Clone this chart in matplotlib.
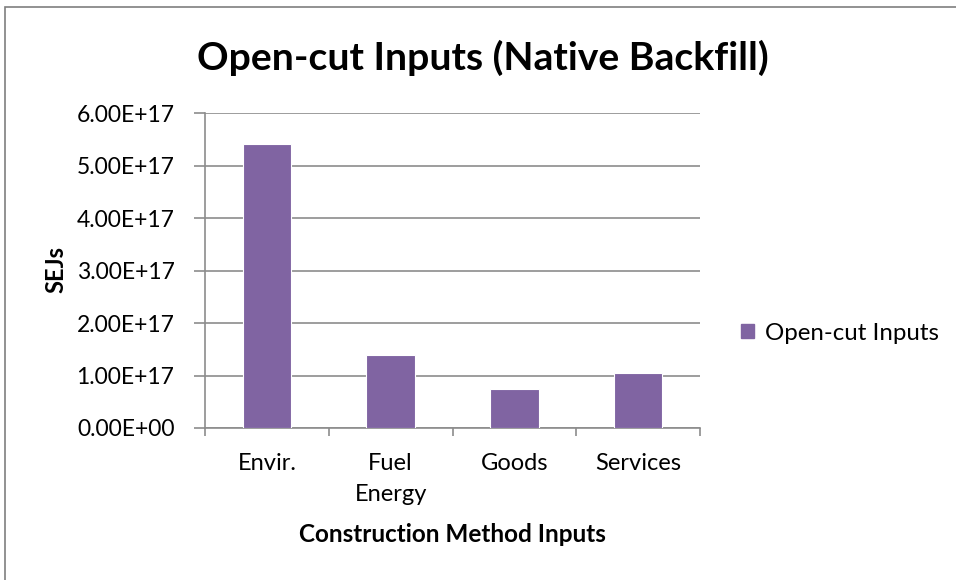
import numpy as np
import matplotlib.pyplot as plt
from matplotlib.patches import Rectangle, Patch

# data
categories = ['Envir.', 'Fuel\nEnergy', 'Goods', 'Services']
values = [5.41e17, 1.40e17, 0.75e17, 1.05e17]
yticks = np.arange(0, 7e17, 1e17)
ytick_labels = ['1.00E+17'.replace('1', str(i), 1) if i > 0 else '0.00E+00'
                for i in range(len(yticks))]

plt.rcParams['font.family'] = ['Lato', 'DejaVu Sans']

fig = plt.figure(figsize=(9.56, 5.8), dpi=100)
ax = fig.add_axes([205 / 956, 1 - 428 / 580, 495 / 956, 315 / 580])

x = np.arange(len(categories))
ax.bar(x, values, width=0.39, color='#8064A2', edgecolor='white', linewidth=0.8,
       zorder=3)

grid_col = '#8c8c8c'
ax.set_xlim(-0.5, len(categories) - 0.5)
ax.set_ylim(0, 6e17)
ax.set_yticks(yticks)
ax.set_yticklabels(ytick_labels, fontsize=16.5)
ax.yaxis.grid(True, color=grid_col, linewidth=1.2, zorder=0)

ax.set_xticks(x)
ax.set_xticklabels(categories, fontsize=17, linespacing=1.6)
ax.tick_params(axis='x', which='major', length=0, pad=18)
ax.set_xticks(np.arange(-0.5, len(categories)), minor=True)
ax.tick_params(axis='x', which='minor', length=6, color=grid_col, width=1.2)
ax.tick_params(axis='y', length=8, color=grid_col, width=1.2, pad=14)

for s in ['top', 'right']:
    ax.spines[s].set_visible(False)
for s in ['left', 'bottom']:
    ax.spines[s].set_color(grid_col)
    ax.spines[s].set_linewidth(1.2)

fig.text(56 / 956, 1 - 270 / 580, 'SEJs', rotation=90, ha='center', va='center',
         fontsize=17, fontweight='bold')
fig.text(452 / 956, 1 - 535 / 580, 'Construction Method Inputs', ha='center',
         va='center', fontsize=17.5, fontweight='bold')
fig.text(483 / 956, 1 - 58 / 580, 'Open-cut Inputs (Native Backfill)', ha='center',
         va='center', fontsize=28.2, fontweight='bold')

ax.legend(handles=[Patch(color='#8064A2', label='Open-cut Inputs')],
          loc='center left', bbox_to_anchor=(1.082, (428 - 333) / 315), frameon=False,
          fontsize=17.3, handlelength=0.55, handleheight=0.55, handletextpad=0.45,
          borderpad=0, borderaxespad=0)

# outer chart border
fig.patches.append(Rectangle((5 / 956, -0.01), 1.0, 1 - 7 / 580 + 0.01,
                             transform=fig.transFigure, fill=False,
                             edgecolor='#7f7f7f', linewidth=1.2))

fig.savefig('out.png', dpi=100)
